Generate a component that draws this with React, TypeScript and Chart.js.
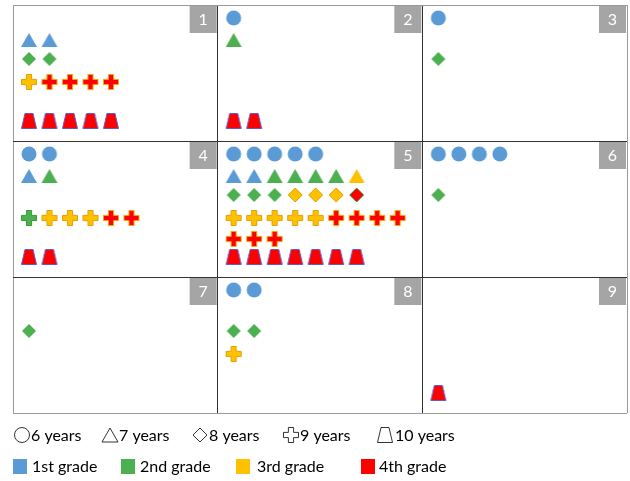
import React, { useEffect, useRef } from "react";
import { Chart, registerables } from "chart.js";

Chart.register(...registerables);

// ---- data ----
const ages = ["6 years", "7 years", "8 years", "9 years", "10 years"];
const grades = ["1st grade", "2nd grade", "3rd grade", "4th grade"];
const panelLabels = ["1", "2", "3", "4", "5", "6", "7", "8", "9"];

// each panel: for each age (6,7,8,9,10) the grade (1-4) of every child
const panel1 = [[], [1, 1], [2, 2], [3, 4, 4, 4, 4], [4, 4, 4, 4, 4]];
const panel2 = [[1], [2], [], [], [4, 4]];
const panel3 = [[1], [], [2], [], []];
const panel4 = [[1, 1], [1, 2], [], [2, 3, 3, 3, 4, 4], [4, 4]];
const panel5 = [
  [1, 1, 1, 1, 1],
  [1, 1, 2, 2, 2, 2, 3],
  [2, 2, 2, 3, 3, 3, 4],
  [3, 3, 3, 3, 3, 4, 4, 4, 4, 4, 4, 4],
  [4, 4, 4, 4, 4, 4, 4],
];
const panel6 = [[1, 1, 1, 1], [], [2], [], []];
const panel7 = [[], [], [2], [], []];
const panel8 = [[1, 1], [], [2, 2], [3], []];
const panel9 = [[], [], [], [], [4]];
const panels = [panel1, panel2, panel3, panel4, panel5, panel6, panel7, panel8, panel9];

// ---- styling ----
const gradeFill = ["#5B9BD5", "#4CAF50", "#FFC000", "#FF0000"];
const shapes = ["circle", "triangle", "diamond", "plus", "trapezoid"];
const PANEL_W = 614 / 3;
const PANEL_H = 408 / 3;
const rowOffset = [13, 35, 54, 77, 116];
const wrapStep = 21;
const firstCol = 16;
const colStep = 20.5;
const perRow = 9;

function shapePath(ctx: CanvasRenderingContext2D, shape: string, cx: number, cy: number) {
  ctx.beginPath();
  if (shape === "circle") {
    ctx.arc(cx, cy, 7.5, 0, Math.PI * 2);
  } else if (shape === "triangle") {
    ctx.moveTo(cx, cy - 7);
    ctx.lineTo(cx + 8, cy + 7);
    ctx.lineTo(cx - 8, cy + 7);
    ctx.closePath();
  } else if (shape === "diamond") {
    ctx.moveTo(cx, cy - 7);
    ctx.lineTo(cx + 7, cy);
    ctx.lineTo(cx, cy + 7);
    ctx.lineTo(cx - 7, cy);
    ctx.closePath();
  } else if (shape === "plus") {
    const a = 2.6, b = 7.5;
    ctx.moveTo(cx - a, cy - b);
    ctx.lineTo(cx + a, cy - b);
    ctx.lineTo(cx + a, cy - a);
    ctx.lineTo(cx + b, cy - a);
    ctx.lineTo(cx + b, cy + a);
    ctx.lineTo(cx + a, cy + a);
    ctx.lineTo(cx + a, cy + b);
    ctx.lineTo(cx - a, cy + b);
    ctx.lineTo(cx - a, cy + a);
    ctx.lineTo(cx - b, cy + a);
    ctx.lineTo(cx - b, cy - a);
    ctx.lineTo(cx - a, cy - a);
    ctx.closePath();
  } else {
    ctx.moveTo(cx - 4, cy - 7.5);
    ctx.lineTo(cx + 4, cy - 7.5);
    ctx.lineTo(cx + 7.5, cy + 7.5);
    ctx.lineTo(cx - 7.5, cy + 7.5);
    ctx.closePath();
  }
}

function strokeFor(shape: string, grade: number): string | null {
  if (shape === "plus") return grade === 3 ? "#E0A000" : grade === 4 ? "#F2A900" : grade === 2 ? "#3C963C" : null;
  if (shape === "trapezoid" && grade === 4) return "#5B5BD6";
  if (shape === "diamond") return grade === 4 ? "#3C963C" : grade === 3 ? "#E0A000" : null;
  return null;
}

const symbolCache: Record<string, HTMLCanvasElement> = {};
function symbol(shape: string, grade: number): HTMLCanvasElement {
  const key = shape + grade;
  if (symbolCache[key]) return symbolCache[key];
  const c = document.createElement("canvas");
  c.width = 20;
  c.height = 20;
  const ctx = c.getContext("2d")!;
  shapePath(ctx, shape, 10, 10);
  ctx.fillStyle = gradeFill[grade - 1];
  ctx.fill();
  const s = strokeFor(shape, grade);
  if (s) {
    ctx.strokeStyle = s;
    ctx.lineWidth = 1;
    ctx.stroke();
  }
  symbolCache[key] = c;
  return c;
}

type Pt = { x: number; y: number; age: number; grade: number };

function buildPoints(): Pt[] {
  const pts: Pt[] = [];
  panels.forEach((panel, p) => {
    const col = p % 3;
    const row = Math.floor(p / 3);
    panel.forEach((list, age) => {
      list.forEach((grade, j) => {
        const c = j % perRow;
        const r = Math.floor(j / perRow);
        pts.push({
          x: col + (firstCol + c * colStep) / PANEL_W,
          y: row + (rowOffset[age] + r * wrapStep) / PANEL_H,
          age,
          grade,
        });
      });
    });
  });
  return pts;
}

const overlayPlugin = {
  id: "overlay",
  afterDraw(chart: any) {
    const ctx: CanvasRenderingContext2D = chart.ctx;
    const xs = chart.scales.x;
    const ys = chart.scales.y;
    ctx.save();
    // panel number badges
    panelLabels.forEach((lab, p) => {
      const col = p % 3;
      const row = Math.floor(p / 3);
      const right = xs.getPixelForValue(col + 1);
      const top = ys.getPixelForValue(row);
      ctx.fillStyle = "#A5A5A5";
      ctx.fillRect(right - 28, top + 1, 27, 27);
      ctx.fillStyle = "#FFFFFF";
      ctx.font = "16px Lato";
      ctx.textAlign = "center";
      ctx.textBaseline = "middle";
      ctx.fillText(lab, right - 14.5, top + 15);
    });
    // legend line 1 (shapes = age)
    ctx.font = "16px Lato";
    ctx.textAlign = "left";
    ctx.textBaseline = "middle";
    const ageX = [22, 110, 200, 291, 385];
    const y1 = 435;
    ages.forEach((a, i) => {
      shapePath(ctx, shapes[i], ageX[i], y1);
      ctx.strokeStyle = "#000";
      ctx.lineWidth = 0.8;
      ctx.stroke();
      ctx.fillStyle = "#000";
      ctx.fillText(a, ageX[i] + (i === 4 ? 10 : 9), y1 + 1);
    });
    // legend line 2 (colors = grade)
    const gradeX = [13, 121, 236, 361];
    const textX = [32, 140, 257, 379];
    const y2 = 466;
    grades.forEach((g, i) => {
      ctx.fillStyle = gradeFill[i];
      ctx.fillRect(gradeX[i], y2 - 7, 14, 15);
      ctx.fillStyle = "#000";
      ctx.fillText(g, textX[i], y2 + 1);
    });
    ctx.restore();
  },
};

export default function App() {
  const ref = useRef<HTMLCanvasElement>(null);
  useEffect(() => {
    document.body.style.margin = "0";
    const pts = buildPoints();
    const gridColor = (c: any) =>
      c.tick && (c.tick.value === 0 || c.tick.value === 3) ? "#9A9A9A" : "#333333";
    const chart = new Chart(ref.current!, {
      type: "scatter",
      data: {
        datasets: [
          {
            data: pts as any,
            pointStyle: (c: any) => symbol(shapes[c.raw.age], c.raw.grade) as any,
            pointRadius: 8,
            pointHoverRadius: 8,
          },
        ],
      },
      options: {
        responsive: false,
        animation: false,
        events: [],
        layout: { autoPadding: false, padding: { left: 13, right: 3, top: 5, bottom: 68 } },
        plugins: { legend: { display: false }, tooltip: { enabled: false } },
        scales: {
          x: {
            type: "linear",
            min: 0,
            max: 3,
            ticks: { display: false, stepSize: 1 },
            grid: { color: gridColor, drawTicks: false, lineWidth: 1 },
            border: { display: false },
          },
          y: {
            type: "linear",
            min: 0,
            max: 3,
            reverse: true,
            ticks: { display: false, stepSize: 1 },
            grid: { color: gridColor, drawTicks: false, lineWidth: 1 },
            border: { display: false },
          },
        },
      },
      plugins: [overlayPlugin],
    });
    return () => chart.destroy();
  }, []);
  return (
    <div style={{ position: "absolute", left: 0, top: 0, width: 630, height: 481 }}>
      <canvas ref={ref} width={630} height={481} />
    </div>
  );
}
